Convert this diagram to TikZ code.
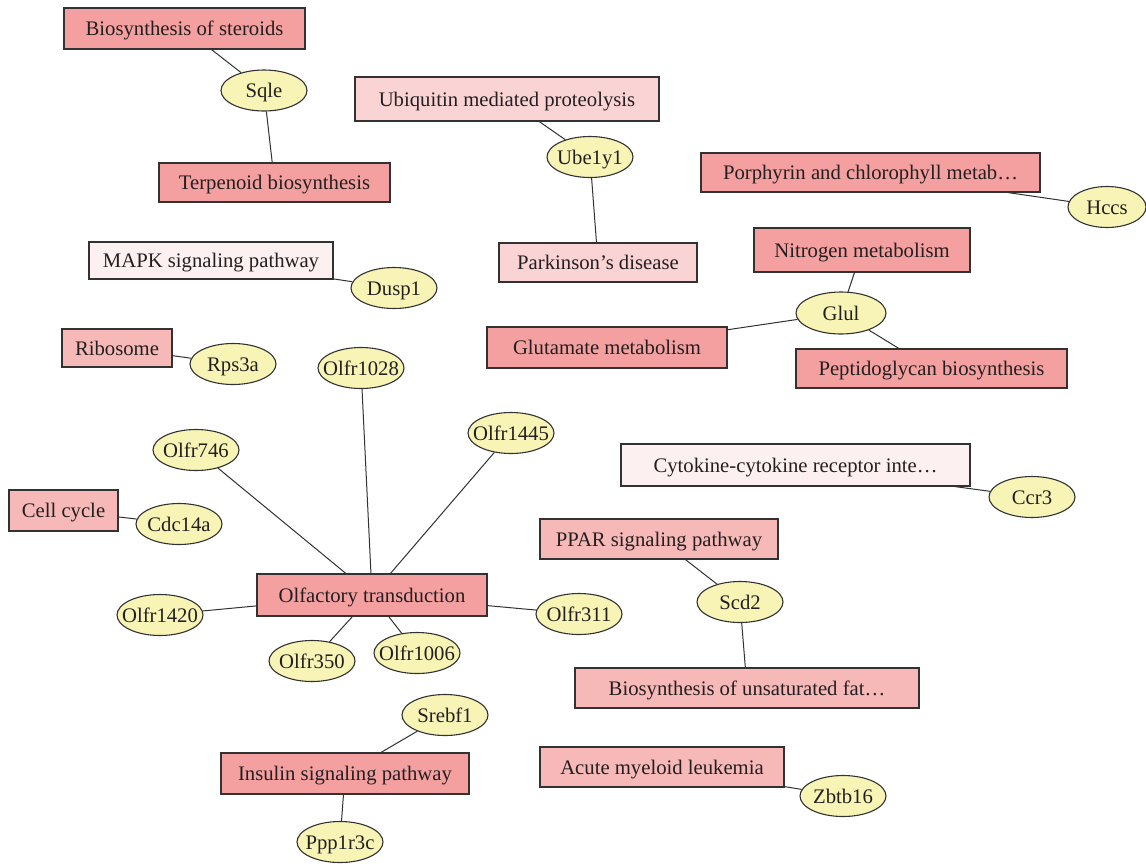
\documentclass[tikz,border=0pt]{standalone}
\usepackage{fontspec}
\setmainfont{Liberation Serif}
\usetikzlibrary{shapes.geometric}
\definecolor{redA}{RGB}{244,160,160}
\definecolor{redB}{RGB}{247,184,184}
\definecolor{pinkC}{RGB}{250,212,212}
\definecolor{pinkD}{RGB}{253,240,240}
\definecolor{ylw}{RGB}{247,244,182}
\definecolor{edgegray}{RGB}{50,50,50}
\definecolor{txt}{RGB}{35,31,32}
\tikzset{
  pbox/.style={rectangle, draw=edgegray, line width=1.1pt, inner sep=0pt, text=txt,
    font=\fontsize{20.7}{24}\selectfont, text height=17pt, text depth=3pt},
  gene/.style={ellipse, draw=edgegray, line width=1.1pt, fill=ylw, inner sep=0pt, text=txt,
    font=\fontsize{20.7}{24}\selectfont, text height=17pt, text depth=3pt,
    minimum width=86pt, minimum height=41pt},
  link/.style={draw=edgegray, line width=1pt}
}
\newcommand{\gn}[1]{\makebox[0pt]{#1}}
\begin{document}
\begin{tikzpicture}[x=1pt,y=-1pt]
\useasboundingbox[fill=white] (0,0) rectangle (1146,863);
% pathway boxes
\node[pbox, fill=redA, minimum width=241, minimum height=41] (bos) at (184.5,28.5) {Biosynthesis of steroids};
\node[pbox, fill=redA, minimum width=231, minimum height=39] (terp) at (274.5,182.5) {Terpenoid biosynthesis};
\node[pbox, fill=pinkD, minimum width=244, minimum height=37] (mapk) at (211,260.5) {MAPK signaling pathway};
\node[pbox, fill=pinkC, minimum width=304, minimum height=44] (ubiq) at (507,99) {Ubiquitin mediated proteolysis};
\node[pbox, fill=pinkC, minimum width=198, minimum height=39] (park) at (598,262.5) {Parkinson’s disease};
\node[pbox, fill=redA, minimum width=339, minimum height=39] (porph) at (870.5,172.5) {Porphyrin and chlorophyll metab\ldots};
\node[pbox, fill=redA, minimum width=216, minimum height=44] (nitro) at (862,250) {Nitrogen metabolism};
\node[pbox, fill=redA, minimum width=240, minimum height=41] (glut) at (607,347.5) {Glutamate metabolism};
\node[pbox, fill=redA, minimum width=271, minimum height=39] (pept) at (931.5,368.5) {Peptidoglycan biosynthesis};
\node[pbox, fill=redB, minimum width=110, minimum height=38] (ribo) at (117,348) {Ribosome};
\node[pbox, fill=redB, minimum width=109, minimum height=41] (cell) at (63.5,510.5) {Cell cycle};
\node[pbox, fill=redA, minimum width=230, minimum height=42] (olf) at (372,595) {Olfactory transduction};
\node[pbox, fill=redA, minimum width=248, minimum height=41] (ins) at (345,773.5) {Insulin signaling pathway};
\node[pbox, fill=pinkD, minimum width=349, minimum height=42] (cyto) at (795.5,465) {Cytokine-cytokine receptor inte\ldots};
\node[pbox, fill=redB, minimum width=238, minimum height=40] (ppar) at (659,539) {PPAR signaling pathway};
\node[pbox, fill=redB, minimum width=344, minimum height=40] (unsat) at (747,688) {Biosynthesis of unsaturated fat\ldots};
\node[pbox, fill=redB, minimum width=244, minimum height=40] (aml) at (662,767) {Acute myeloid leukemia};
% genes
\node[gene] (sqle) at (264,90.5) {\gn{Sqle}};
\node[gene] (dusp) at (394,288) {\gn{Dusp1}};
\node[gene] (ube) at (590,157) {\gn{Ube1y1}};
\node[gene, minimum width=78] (hccs) at (1107,207) {\gn{Hccs}};
\node[gene, minimum width=90, minimum height=42] (glul) at (841,313) {\gn{Glul}};
\node[gene] (rps) at (233,364) {\gn{Rps3a}};
\node[gene] (o1028) at (361,368) {\gn{Olfr1028}};
\node[gene] (o1445) at (511,433) {\gn{Olfr1445}};
\node[gene] (o746) at (196,450) {\gn{Olfr746}};
\node[gene] (cdc) at (179,524) {\gn{Cdc14a}};
\node[gene] (o1420) at (160,615) {\gn{Olfr1420}};
\node[gene] (o311) at (579,614) {\gn{Olfr311}};
\node[gene] (o350) at (312,661) {\gn{Olfr350}};
\node[gene] (o1006) at (417,653) {\gn{Olfr1006}};
\node[gene] (srebf) at (445,715) {\gn{Srebf1}};
\node[gene] (ppp) at (340,842) {\gn{Ppp1r3c}};
\node[gene] (ccr) at (1032,497) {\gn{Ccr3}};
\node[gene] (scd) at (740,602) {\gn{Scd2}};
\node[gene] (zbtb) at (843,796) {\gn{Zbtb16}};
% connectors
\draw[link] (bos) -- (sqle);
\draw[link] (sqle) -- (terp);
\draw[link] (mapk) -- (dusp);
\draw[link] (ubiq) -- (ube);
\draw[link] (ube) -- (park);
\draw[link] (porph) -- (hccs);
\draw[link] (nitro) -- (glul);
\draw[link] (glul) -- (glut);
\draw[link] (glul) -- (pept);
\draw[link] (ribo) -- (rps);
\draw[link] (cell) -- (cdc);
\draw[link] (olf) -- (o1028);
\draw[link] (olf) -- (o1445);
\draw[link] (olf) -- (o746);
\draw[link] (olf) -- (o1420);
\draw[link] (olf) -- (o311);
\draw[link] (olf) -- (o350);
\draw[link] (olf) -- (o1006);
\draw[link] (ins) -- (srebf);
\draw[link] (ins) -- (ppp);
\draw[link] (cyto) -- (ccr);
\draw[link] (ppar) -- (scd);
\draw[link] (scd) -- (unsat);
\draw[link] (aml) -- (zbtb);
\end{tikzpicture}
\end{document}
